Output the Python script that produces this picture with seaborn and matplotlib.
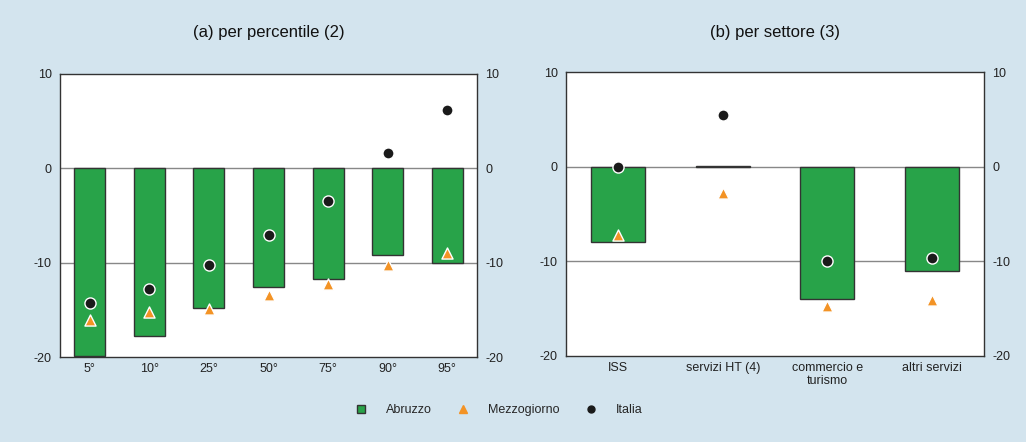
import pandas as pd
import matplotlib
matplotlib.use("Agg")
import matplotlib.pyplot as plt
from matplotlib.lines import Line2D
import seaborn as sns

# dati
percentili = ["5°", "10°", "25°", "50°", "75°", "90°", "95°"]
abruzzo_a = [-19.9, -17.75, -14.85, -12.55, -11.7, -9.15, -10.05]
mezzogiorno_a = [-16.1, -15.2, -14.9, -13.4, -12.3, -10.2, -8.95]
italia_a = [-14.3, -12.75, -10.2, -7.1, -3.45, 1.65, 6.15]

settori = ["ISS", "servizi HT (4)", "commercio e\nturismo", "altri servizi"]
abruzzo_b = [-7.95, 0.05, -14.0, -11.0]
mezzogiorno_b = [-7.2, -2.8, -14.7, -14.1]
italia_b = [0.0, 5.5, -10.0, -9.6]

titles = ["(a) per percentile (2)", "(b) per settore (3)"]

bg = "#d3e4ee"
green = "#28a349"
orange = "#f39325"

sns.set_theme(style="white")
plt.rcParams["font.family"] = ["Liberation Sans", "DejaVu Sans"]
plt.rcParams["axes.unicode_minus"] = False

fig = plt.figure(figsize=(10.26, 4.42), dpi=100, facecolor=bg)
axes = [fig.add_axes([0.0585, 0.1923, 0.4064, 0.6403]),
        fig.add_axes([0.5517, 0.1946, 0.4074, 0.6425])]

panels = [(percentili, abruzzo_a, mezzogiorno_a, italia_a),
          (settori, abruzzo_b, mezzogiorno_b, italia_b)]

for ax, (cats, ab, mz, it), title in zip(axes, panels, titles):
    df = pd.DataFrame({"cat": cats, "Abruzzo": ab, "Mezzogiorno": mz, "Italia": it})
    ax.set_facecolor("white")
    for yv in [-10, 0]:
        ax.axhline(yv, color="#888888", lw=1.0, zorder=0)
    sns.barplot(data=df, x="cat", y="Abruzzo", color=green, width=0.52,
                edgecolor="#333333", linewidth=1.0, saturation=1, ax=ax, zorder=2)
    sns.stripplot(data=df, x="cat", y="Mezzogiorno", jitter=False, marker="^",
                  color=orange, size=8, edgecolor="white", linewidth=1.0, ax=ax, zorder=3)
    sns.stripplot(data=df, x="cat", y="Italia", jitter=False, marker="o",
                  color="#1a1a1a", size=8, edgecolor="white", linewidth=1.0, ax=ax, zorder=4)
    ax.set_ylim(-20, 10)
    ax.set_yticks([-20, -10, 0, 10])
    ax.set_xlabel("")
    ax.set_ylabel("")
    ax.tick_params(axis="both", length=0, labelsize=9, colors="#222222", pad=6)
    ax.tick_params(axis="x", pad=4)
    ax.tick_params(axis="y", labelright=True)
    for s in ax.spines.values():
        s.set_color("#333333")
        s.set_linewidth(1.0)
    pos = ax.get_position()
    fig.text((pos.x0 + pos.x1) / 2, 1 - 32 / 442, title, ha="center", va="center",
             fontsize=12, color="#111111")

handles = [
    Line2D([], [], marker="s", ls="", color=green, markeredgecolor="#333333", markersize=6),
    Line2D([], [], marker="^", ls="", color=orange, markersize=6),
    Line2D([], [], marker="o", ls="", color="#1a1a1a", markersize=5),
]
fig.legend(handles, ["Abruzzo", "Mezzogiorno", "Italia"], loc="center",
           bbox_to_anchor=(0.483, 0.072), ncol=3, frameon=False, fontsize=9,
           handletextpad=1.0, columnspacing=1.5)

fig.savefig("out.png", dpi=100, facecolor=bg)
